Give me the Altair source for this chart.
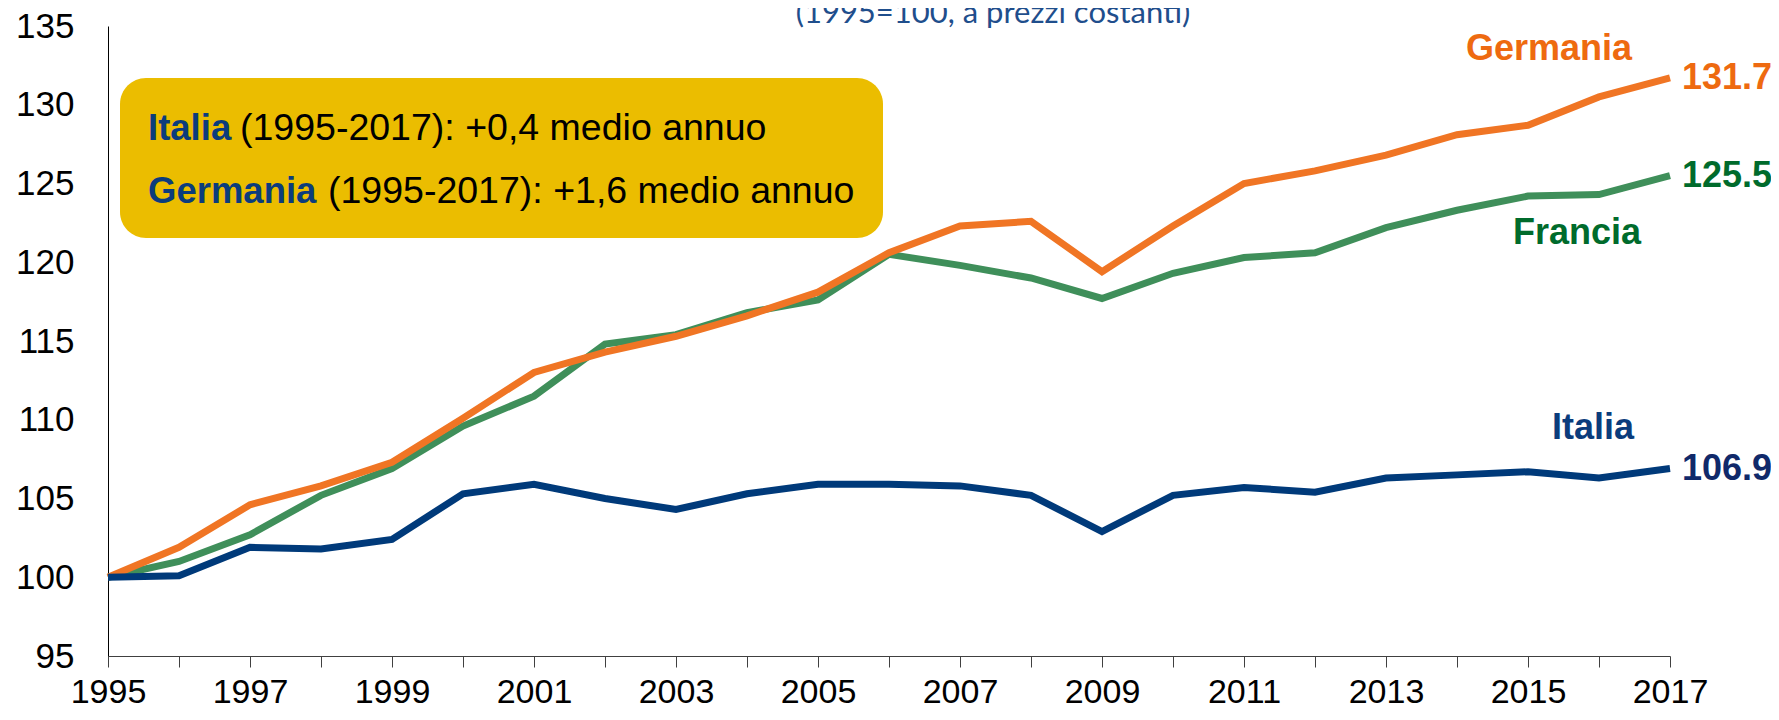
import altair as alt
import pandas as pd

years = list(range(1995, 2018))
italia = [100.0, 100.1, 101.9, 101.8, 102.4, 105.3, 105.9, 105.0, 104.3, 105.3, 105.9, 105.9,
          105.8, 105.2, 102.9, 105.2, 105.7, 105.4, 106.3, 106.5, 106.7, 106.3, 106.9]
germania = [100.0, 101.9, 104.6, 105.8, 107.3, 110.1, 113.0, 114.3, 115.3, 116.6, 118.1, 120.6,
            122.3, 122.6, 119.4, 122.3, 125.0, 125.8, 126.8, 128.1, 128.7, 130.5, 131.7]
francia = [100.0, 101.0, 102.7, 105.2, 106.9, 109.6, 111.5, 114.8, 115.4, 116.8, 117.6, 120.5,
           119.8, 119.0, 117.7, 119.3, 120.3, 120.6, 122.2, 123.3, 124.2, 124.3, 125.5]
series = ["Francia", "Germania", "Italia"]
y_ticks = [95, 100, 105, 110, 115, 120, 125, 130, 135]
subtitle = "(1995=100, a prezzi costanti)"
box_bold = ["Italia", "Germania"]
box_rest = ["(1995-2017): +0,4 medio annuo", "(1995-2017): +1,6 medio annuo"]

line_colors = {"Francia": "#3F8F5A", "Germania": "#F07524", "Italia": "#003A7A"}
value_colors = ["#006B2C", "#EE6A10", "#10296A"]
name_colors = {"Francia": "#006B2C", "Germania": "#EE6A10", "Italia": "#0B3C7C"}

df = pd.DataFrame({
    "anno": years * 3,
    "valore": francia + germania + italia,
    "paese": ["Francia"] * len(years) + ["Germania"] * len(years) + ["Italia"] * len(years),
})
df_end = df[df["anno"] == years[-1]].copy()

FONT = "Liberation Sans"

x_enc = alt.X("anno:Q",
              scale=alt.Scale(domain=[years[0], years[-1]], nice=False, zero=False),
              axis=alt.Axis(values=years, format="d",
                            labelExpr="datum.value % 2 == 1 ? datum.label : ''",
                            title=None, grid=False, domainColor="#404040", domainWidth=1,
                            tickColor="#404040", tickSize=11, tickWidth=1,
                            labelFontSize=34, labelFont=FONT, labelColor="#000000",
                            labelPadding=8, labelFlush=False, labelOverlap=False))
y_enc = alt.Y("valore:Q",
              scale=alt.Scale(domain=[95, 135], nice=False, zero=False),
              axis=alt.Axis(values=y_ticks, title=None, grid=False, ticks=False,
                            domainColor="#000000", domainWidth=1,
                            labelFontSize=35, labelFont=FONT, labelColor="#000000",
                            labelPadding=34, labelFlush=False, labelOverlap=False))

layers = []

# annotation box
dummy = pd.DataFrame({"k": [0]})
box = alt.Chart(dummy).mark_rect(color="#EBBD00", cornerRadius=26).encode(
    x=alt.value(12), x2=alt.value(775), y=alt.value(52), y2=alt.value(212))
layers.append(box)

box_rows = [(103, 40, 132), (166, 40, 220)]
for i, (yy, xb, xr) in enumerate(box_rows):
    layers.append(alt.Chart(dummy).mark_text(
        text=box_bold[i], font=FONT, fontSize=36.5, fontWeight="bold", color="#0B3C7C",
        align="left", baseline="middle").encode(x=alt.value(xb), y=alt.value(yy)))
    layers.append(alt.Chart(dummy).mark_text(
        text=box_rest[i], font=FONT, fontSize=37.5, color="#000000",
        align="left", baseline="middle").encode(x=alt.value(xr), y=alt.value(yy)))

# lines
for name in series:
    layers.append(alt.Chart(df).transform_filter(alt.datum.paese == name).mark_line(
        color=line_colors[name], strokeWidth=7, strokeJoin="miter").encode(x=x_enc, y=y_enc))

# end values
layers.append(alt.Chart(df_end).mark_text(
    font=FONT, fontSize=36, fontWeight="bold", align="left", baseline="middle", dx=12).encode(
    x=x_enc, y=y_enc,
    text=alt.Text("valore:Q", format=".1f"),
    color=alt.Color("paese:N", scale=alt.Scale(domain=series, range=value_colors), legend=None)))

# series names
name_pos = {"Germania": (1441, 23), "Francia": (1469, 207), "Italia": (1485, 402)}
for name in series:
    px, py = name_pos[name]
    layers.append(alt.Chart(dummy).mark_text(
        text=name, font=FONT, fontSize=36, fontWeight="bold", color=name_colors[name],
        align="center", baseline="middle").encode(x=alt.value(px), y=alt.value(py)))

# subtitle (cut at the top, as in the reference)
layers.append(alt.Chart(dummy).mark_text(
    text=subtitle, font="Lato", fontSize=31, color="#1F4E8C",
    align="center", baseline="alphabetic").encode(x=alt.value(885), y=alt.value(-3)))

chart = alt.layer(*layers).properties(
    width=1562, height=630,
    autosize=alt.AutoSizeParams(type="none"),
    padding={"left": 100, "top": 18, "right": 101, "bottom": 54},
).configure_view(stroke=None)

chart.save("out.html", embed_options={"renderer": "svg", "actions": False})
